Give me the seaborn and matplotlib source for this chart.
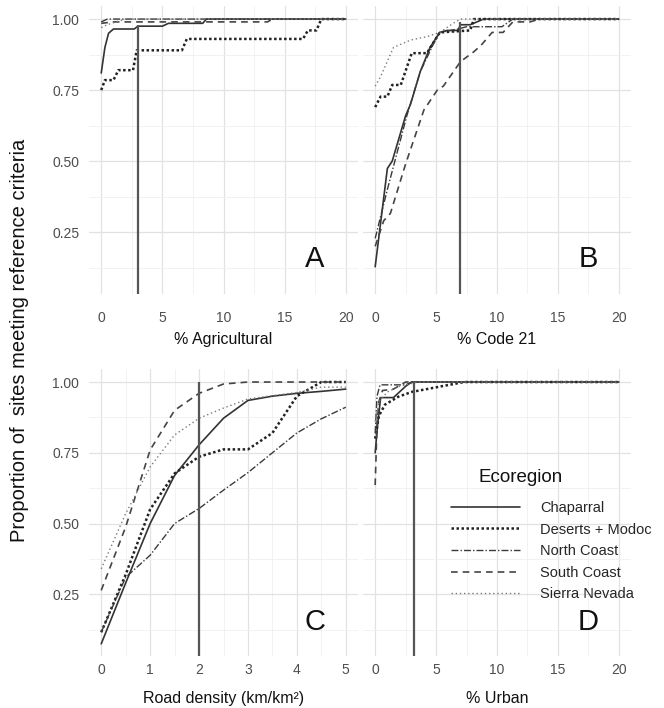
import numpy as np
import pandas as pd
import seaborn as sns
import matplotlib.pyplot as plt
from matplotlib.lines import Line2D
from matplotlib.ticker import MultipleLocator

REGIONS = ["Chaparral", "Deserts + Modoc", "North Coast", "South Coast", "Sierra Nevada"]

# A: % Agricultural
agr_chap_x = [0, 0.3, 0.6, 1.0, 2.7, 3.0, 5.0, 5.5, 8.3, 8.6, 20]
agr_chap_y = [0.81, 0.90, 0.95, 0.965, 0.965, 0.975, 0.975, 0.985, 0.985, 1.0, 1.0]
agr_des_x = [0, 0.3, 1.0, 1.4, 2.6, 2.9, 6.6, 7.0, 16.5, 16.9, 17.6, 18.0, 20]
agr_des_y = [0.75, 0.785, 0.785, 0.82, 0.82, 0.89, 0.89, 0.93, 0.93, 0.96, 0.96, 1.0, 1.0]
agr_nc_x = [0, 0.5, 20]
agr_nc_y = [0.99, 1.0, 1.0]
agr_sc_x = [0, 1.0, 13.6, 14.0, 20]
agr_sc_y = [0.985, 0.99, 0.99, 1.0, 1.0]
agr_sn_x = [0, 0.5, 1.2, 2.0, 20]
agr_sn_y = [0.97, 0.98, 0.99, 1.0, 1.0]

# B: % Code 21
c21_chap_x = [0, 1.0, 1.4, 2.5, 2.9, 3.7, 4.5, 5.3, 5.9, 6.8, 7.0, 7.8, 8.9, 20]
c21_chap_y = [0.128, 0.474, 0.50, 0.66, 0.70, 0.815, 0.90, 0.953, 0.96, 0.96, 0.98, 0.98, 1.0, 1.0]
c21_des_x = [0, 0.44, 1.0, 1.4, 2.1, 3.0, 4.25, 5.3, 7.8, 8.1, 20]
c21_des_y = [0.69, 0.727, 0.727, 0.768, 0.768, 0.88, 0.88, 0.953, 0.96, 1.0, 1.0]
c21_nc_x = [0, 1.0, 2.6, 3.7, 4.8, 5.3, 6.8, 7.5, 10.4, 11.3, 20]
c21_nc_y = [0.228, 0.40, 0.66, 0.815, 0.914, 0.953, 0.965, 0.973, 0.973, 1.0, 1.0]
c21_sc_x = [0, 0.7, 1.25, 2.5, 4.0, 5.1, 5.6, 7.0, 8.1, 8.7, 9.6, 10.5, 11.3, 12.7, 13.5, 20]
c21_sc_y = [0.20, 0.29, 0.316, 0.49, 0.68, 0.75, 0.764, 0.85, 0.885, 0.908, 0.953, 0.953,
            0.99, 0.99, 1.0, 1.0]
c21_sn_x = [0, 0.44, 1.5, 2.9, 4.25, 5.3, 6.4, 7.0, 20]
c21_sn_y = [0.764, 0.797, 0.90, 0.926, 0.938, 0.953, 0.985, 1.0, 1.0]

# C: Road density
road_x = [0, 0.5, 1, 1.5, 2, 2.5, 3, 3.5, 4, 4.5, 5]
road_chap_y = [0.075, 0.29, 0.50, 0.67, 0.778, 0.872, 0.935, 0.95, 0.96, 0.967, 0.975]
road_des_y = [0.116, 0.32, 0.55, 0.677, 0.736, 0.762, 0.762, 0.82, 0.95, 1.0, 1.0]
road_nc_y = [0.116, 0.31, 0.388, 0.50, 0.553, 0.618, 0.68, 0.75, 0.82, 0.87, 0.911]
road_sc_y = [0.264, 0.488, 0.76, 0.90, 0.96, 0.993, 1.0, 1.0, 1.0, 1.0, 1.0]
road_sn_y = [0.34, 0.535, 0.70, 0.813, 0.872, 0.908, 0.94, 0.952, 0.963, 0.982, 0.982]

# D: % Urban
urb_chap_x = [0, 0.2, 0.45, 1.5, 2.5, 3.0, 20]
urb_chap_y = [0.75, 0.85, 0.945, 0.945, 0.985, 1.0, 1.0]
urb_des_x = [0, 0.3, 0.8, 1.9, 3.0, 4.6, 7.3, 20]
urb_des_y = [0.80, 0.88, 0.92, 0.948, 0.965, 0.978, 1.0, 1.0]
urb_nc_x = [0, 0.15, 0.4, 2.5, 3.0, 20]
urb_nc_y = [0.82, 0.95, 0.99, 0.99, 1.0, 1.0]
urb_sc_x = [0, 0.15, 0.3, 0.6, 1.5, 2.5, 20]
urb_sc_y = [0.636, 0.85, 0.93, 0.97, 0.975, 1.0, 1.0]
urb_sn_x = [0, 0.3, 1.0, 2.0, 3.5, 20]
urb_sn_y = [0.86, 0.93, 0.965, 0.985, 1.0, 1.0]

thresholds = [3, 7, 2, 3.2]
threshold_tops = [0.98, 0.99, 1.0, 1.0]
x_titles = ["% Agricultural", "% Code 21", "Road density (km/km\u00b2)", "% Urban"]
letters = ["A", "B", "C", "D"]

panels = [
    [(agr_chap_x, agr_chap_y), (agr_des_x, agr_des_y), (agr_nc_x, agr_nc_y),
     (agr_sc_x, agr_sc_y), (agr_sn_x, agr_sn_y)],
    [(c21_chap_x, c21_chap_y), (c21_des_x, c21_des_y), (c21_nc_x, c21_nc_y),
     (c21_sc_x, c21_sc_y), (c21_sn_x, c21_sn_y)],
    [(road_x, road_chap_y), (road_x, road_des_y), (road_x, road_nc_y),
     (road_x, road_sc_y), (road_x, road_sn_y)],
    [(urb_chap_x, urb_chap_y), (urb_des_x, urb_des_y), (urb_nc_x, urb_nc_y),
     (urb_sc_x, urb_sc_y), (urb_sn_x, urb_sn_y)],
]

# line styles per region
styles = {
    "Chaparral": dict(color="#333333", lw=1.2, ls="-"),
    "Deserts + Modoc": dict(color="#222222", lw=1.8, ls=(0, (1, 1))),
    "North Coast": dict(color="#3a3a3a", lw=1.0, ls=(0, (5, 1.5, 1, 1.5))),
    "South Coast": dict(color="#444444", lw=1.2, ls=(0, (4, 3))),
    "Sierra Nevada": dict(color="#7a7a7a", lw=1.0, ls=(0, (1, 2))),
}

sns.set_style("white")
plt.rcParams["font.family"] = ["Liberation Sans", "DejaVu Sans"]

W, H = 664, 708
fig = plt.figure(figsize=(W / 100, H / 100), dpi=100)

def px_axes(left, right, top, bottom):
    return fig.add_axes([left / W, 1 - bottom / H, (right - left) / W, (bottom - top) / H])

axes = [px_axes(89, 358, 6, 294), px_axes(363, 631, 6, 294),
        px_axes(89, 358, 369, 656), px_axes(363, 631, 369, 656)]

for i, ax in enumerate(axes):
    rows = []
    for reg, (xs, ys) in zip(REGIONS, panels[i]):
        rows.append(pd.DataFrame({"x": xs, "y": ys, "region": reg}))
    df = pd.concat(rows, ignore_index=True)
    for reg in REGIONS:
        st = styles[reg]
        sns.lineplot(data=df[df["region"] == reg], x="x", y="y", ax=ax, estimator=None,
                     sort=False, color=st["color"], linewidth=st["lw"], linestyle=st["ls"],
                     legend=False)
    ax.vlines(thresholds[i], 0.032, threshold_tops[i], color="#555555", lw=1.6)

    if i == 2:
        ax.set_xlim(-0.25, 5.25)
        ax.xaxis.set_major_locator(MultipleLocator(1))
        ax.xaxis.set_minor_locator(MultipleLocator(0.5))
    else:
        ax.set_xlim(-1, 21)
        ax.xaxis.set_major_locator(MultipleLocator(5))
        ax.xaxis.set_minor_locator(MultipleLocator(2.5))
    ax.set_ylim(0.032, 1.046)
    ax.set_yticks([0.25, 0.5, 0.75, 1.0])
    ax.set_yticklabels(["0.25", "0.50", "0.75", "1.00"])
    ax.yaxis.set_minor_locator(MultipleLocator(0.125))

    ax.grid(which="major", color="#e2e2e2", lw=0.9)
    ax.grid(which="minor", color="#f0f0f0", lw=0.6)
    ax.set_axisbelow(True)
    for sp in ax.spines.values():
        sp.set_visible(False)
    ax.tick_params(which="major", length=3, width=0.8, color="#333333",
                   labelcolor="#4d4d4d", labelsize=10, pad=4)
    ax.tick_params(which="minor", length=0)
    top_row = i < 2
    ax.tick_params(axis="x", pad=9 if top_row else 2)
    if i in (1, 3):
        ax.tick_params(axis="y", left=False, labelleft=False)
    ax.set_xlabel(x_titles[i], fontsize=11.5, color="#111111",
                  labelpad=5 if top_row else 10)
    ax.set_ylabel("")
    ax.text(0.84, 0.12, letters[i], transform=ax.transAxes, fontsize=21,
            ha="center", va="center", color="#111111")

fig.text(20 / W, 1 - 340 / H, "Proportion of  sites meeting reference criteria",
         rotation=90, fontsize=14.5, ha="center", va="center", color="#111111")

# legend in panel D
handles = [Line2D([0], [0], color=styles[r]["color"], lw=styles[r]["lw"], ls=styles[r]["ls"])
           for r in REGIONS]
fig.text(521 / W, 1 - 477 / H, "Ecoregion", fontsize=13.5, ha="center", va="center",
         color="#111111")
fig.legend(handles, REGIONS, loc="upper left", bbox_to_anchor=(451 / W, 1 - 501 / H),
           frameon=False, fontsize=10.5, handlelength=4.7, handletextpad=1.4,
           labelspacing=0.52, borderpad=0, borderaxespad=0)

fig.savefig("out.png", dpi=100)
